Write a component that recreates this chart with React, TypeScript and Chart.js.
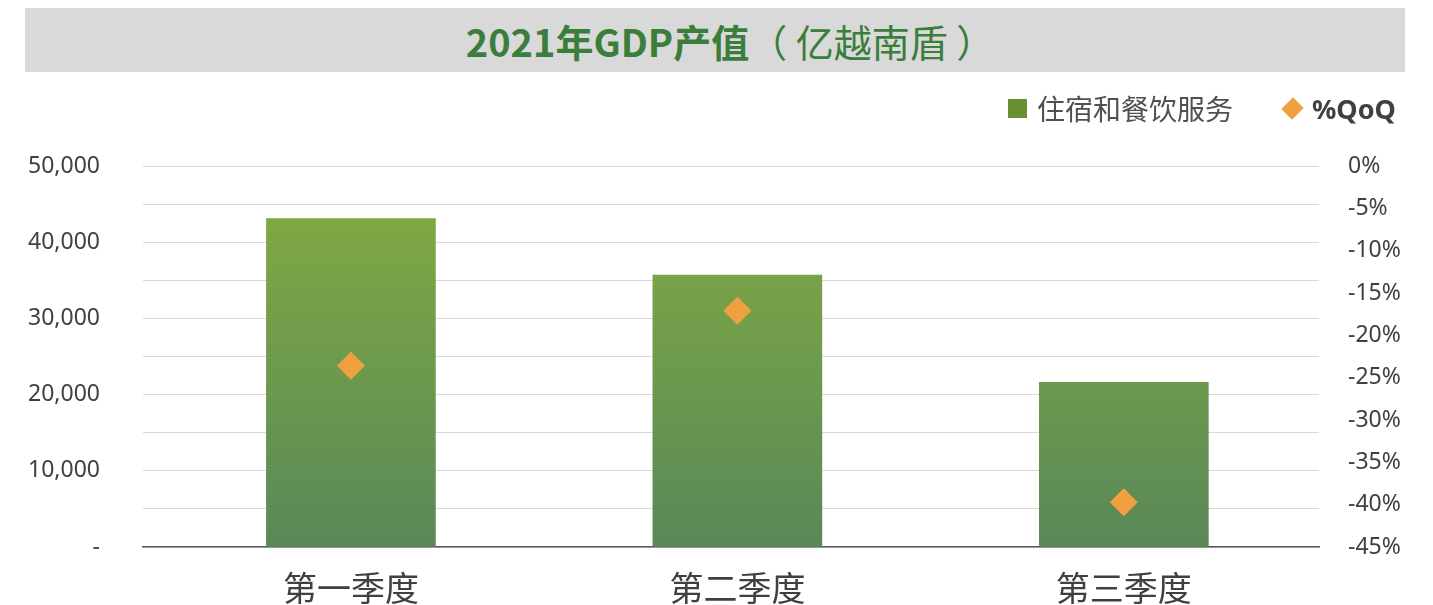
import React, { useEffect, useRef } from "react";
import { Chart, registerables } from "chart.js";

Chart.register(...registerables);

const categories = ["第一季度", "第二季度", "第三季度"];
const gdpValues = [43100, 35700, 21600];
const qoqValues = [-23.6, -17.1, -39.7];
const barLabel = "住宿和餐饮服务";
const qoqLabel = "%QoQ";
const titleMain = "2021年GDP产值";
const titleUnit = "（ 亿越南盾 ）";

const FONT = "'Noto Sans', sans-serif";
const CJK = "'Noto Sans CJK SC', 'DejaVu Sans', sans-serif";

export default function App() {
  const ref = useRef<HTMLCanvasElement | null>(null);

  useEffect(() => {
    if (!ref.current) return;
    const chart = new Chart(ref.current, {
      type: "bar",
      data: {
        datasets: [
          {
            type: "line",
            label: qoqLabel,
            data: qoqValues.map((v, i) => ({ x: i, y: v })),
            yAxisID: "y1",
            xAxisID: "x",
            showLine: false,
            pointStyle: "rectRot",
            pointRadius: 14,
            pointHoverRadius: 14,
            backgroundColor: "#f0a040",
            borderColor: "#f0a040",
            borderWidth: 0,
            order: 0,
          },
          {
            type: "bar",
            label: barLabel,
            data: gdpValues.map((v, i) => ({ x: i, y: v })),
            yAxisID: "y",
            xAxisID: "x",
            barThickness: 169,
            order: 1,
            backgroundColor: (ctx: any) => {
              const c = ctx.chart;
              const a = c.chartArea;
              if (!a) return "#6f9a4c";
              const g = c.ctx.createLinearGradient(0, a.bottom, 0, a.top);
              g.addColorStop(0, "#5a8858");
              g.addColorStop(1, "#84ad40");
              return g;
            },
          },
        ],
      },
      options: {
        animation: false,
        responsive: true,
        maintainAspectRatio: false,
        layout: { padding: { top: 166, left: 0, right: 0, bottom: 0 } },
        plugins: {
          legend: { display: false },
          title: { display: false },
          tooltip: { enabled: false },
        },
        scales: {
          x: {
            type: "linear",
            offset: false,
            min: -0.538,
            max: 2.505,
            grid: { display: false },
            border: { display: true, color: "#595959", width: 1.5 },
            ticks: {
              stepSize: 1,
              autoSkip: false,
              maxRotation: 0,
              color: "#404040",
              font: { family: CJK, size: 34 },
              padding: 13,
              callback: (v: any) => {
                const n = Number(v);
                return Number.isInteger(n) && categories[n] ? categories[n] : "";
              },
            },
            afterFit: (s: any) => {
              s.height = 58;
            },
          },
          y: {
            position: "left",
            min: 0,
            max: 50000,
            grid: { color: "#d9d9d9", lineWidth: 1, drawTicks: false },
            border: { display: false },
            ticks: {
              stepSize: 5000,
              padding: 43,
              color: "#404040",
              font: { family: FONT, size: 23 },
              callback: (v: any) => {
                const n = Number(v);
                if (n === 0) return "-";
                if (n % 10000 !== 0) return "";
                return n.toLocaleString("en-US");
              },
            },
            afterFit: (s: any) => {
              s.width = 143;
            },
          },
          y1: {
            position: "right",
            min: -45,
            max: 0,
            grid: { display: false, drawTicks: false },
            border: { display: false },
            ticks: {
              stepSize: 5,
              padding: 29,
              color: "#404040",
              font: { family: FONT, size: 23 },
              callback: (v: any) => `${Number(v)}%`,
            },
            afterFit: (s: any) => {
              s.width = 114;
            },
          },
        },
      },
    });
    return () => chart.destroy();
  }, []);

  return (
    <div
      style={{
        position: "absolute",
        left: 0,
        top: 0,
        width: 1433,
        height: 605,
        background: "#ffffff",
        overflow: "hidden",
      }}
    >
      <canvas ref={ref} style={{ position: "absolute", left: 0, top: 0 }} />
      <div
        style={{
          position: "absolute",
          left: 25,
          top: 8,
          width: 1380,
          height: 64,
          boxSizing: "border-box",
          paddingLeft: 30,
          background: "#d9d9d9",
          display: "flex",
          alignItems: "center",
          justifyContent: "center",
          color: "#3b7d3b",
          fontFamily: CJK,
          fontSize: 38,
          whiteSpace: "pre",
        }}
      >
        <span style={{ fontWeight: 700 }}>{titleMain}</span>
        <span style={{ fontWeight: 400 }}>{titleUnit}</span>
      </div>
      <div
        style={{
          position: "absolute",
          left: 1008,
          top: 88,
          height: 40,
          display: "flex",
          alignItems: "center",
          fontFamily: CJK,
          fontSize: 28,
          color: "#505050",
          whiteSpace: "nowrap",
        }}
      >
        <span
          style={{
            display: "inline-block",
            width: 19,
            height: 19,
            background: "#6a8f30",
            marginRight: 10,
          }}
        />
        <span>{barLabel}</span>
        <span
          style={{
            display: "inline-block",
            width: 15,
            height: 15,
            background: "#f0a040",
            transform: "rotate(45deg) scaleY(1.1)",
            marginLeft: 52,
            marginRight: 12,
          }}
        />
        <span style={{ fontFamily: "'Noto Sans', sans-serif", fontWeight: 700, color: "#404040", fontSize: 27 }}>
          {qoqLabel}
        </span>
      </div>
    </div>
  );
}
